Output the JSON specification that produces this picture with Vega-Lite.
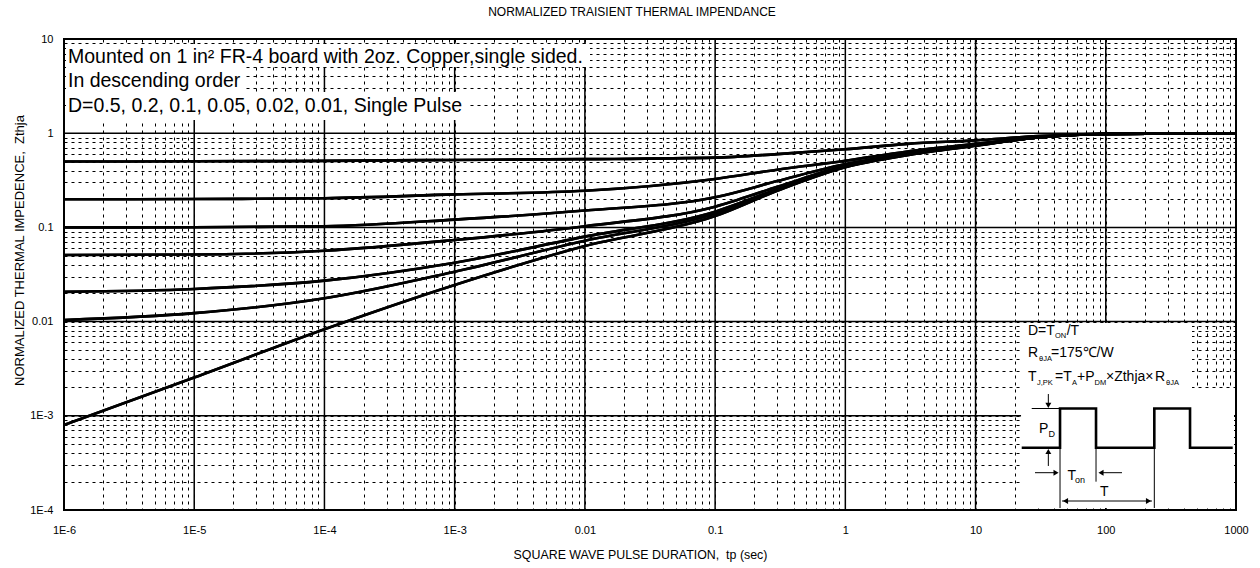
{
  "$schema": "https://vega.github.io/schema/vega-lite/v6.json",
  "width": 1172,
  "height": 471,
  "autosize": {"type": "none"},
  "padding": {"left": 64, "top": 39, "right": 24, "bottom": 58},
  "background": "white",
  "config": {
    "font": "Liberation Sans",
    "view": {"stroke": "black", "strokeWidth": 2}
  },
  "title": {"text": "NORMALIZED TRAISIENT THERMAL IMPENDANCE", "fontSize": 12, "fontWeight": "normal", "color": "black", "offset": 14, "anchor": "middle", "dx": -18},
  "datasets": {
    "xdec": [{"t": 1e-6}, {"t": 1e-5}, {"t": 1e-4}, {"t": 0.001}, {"t": 0.01}, {"t": 0.1}, {"t": 1}, {"t": 10}, {"t": 100}, {"t": 1000}],
    "ydec": [{"z": 0.0001}, {"z": 0.001}, {"z": 0.01}, {"z": 0.1}, {"z": 1}, {"z": 10}],
    "curves": [
      {"s": "0.5", "t": 1e-6, "z": 0.5}, {"s": "0.5", "t": 1e-5, "z": 0.503}, {"s": "0.5", "t": 1e-4, "z": 0.508}, {"s": "0.5", "t": 1e-3, "z": 0.52}, {"s": "0.5", "t": 0.01, "z": 0.53}, {"s": "0.5", "t": 0.1, "z": 0.55}, {"s": "0.5", "t": 0.3, "z": 0.6}, {"s": "0.5", "t": 1, "z": 0.675}, {"s": "0.5", "t": 3, "z": 0.77}, {"s": "0.5", "t": 10, "z": 0.84}, {"s": "0.5", "t": 30, "z": 0.93}, {"s": "0.5", "t": 100, "z": 0.985}, {"s": "0.5", "t": 1000, "z": 1.0},
      {"s": "0.2", "t": 1e-6, "z": 0.199}, {"s": "0.2", "t": 1e-5, "z": 0.2}, {"s": "0.2", "t": 1e-4, "z": 0.204}, {"s": "0.2", "t": 1e-3, "z": 0.224}, {"s": "0.2", "t": 0.01, "z": 0.245}, {"s": "0.2", "t": 0.1, "z": 0.327}, {"s": "0.2", "t": 0.3, "z": 0.41}, {"s": "0.2", "t": 1, "z": 0.51}, {"s": "0.2", "t": 3, "z": 0.64}, {"s": "0.2", "t": 10, "z": 0.77}, {"s": "0.2", "t": 30, "z": 0.9}, {"s": "0.2", "t": 100, "z": 0.98}, {"s": "0.2", "t": 1000, "z": 1.0},
      {"s": "0.1", "t": 1e-6, "z": 0.1}, {"s": "0.1", "t": 1e-5, "z": 0.1005}, {"s": "0.1", "t": 1e-4, "z": 0.103}, {"s": "0.1", "t": 1e-3, "z": 0.121}, {"s": "0.1", "t": 0.01, "z": 0.151}, {"s": "0.1", "t": 0.1, "z": 0.209}, {"s": "0.1", "t": 0.3, "z": 0.31}, {"s": "0.1", "t": 1, "z": 0.47}, {"s": "0.1", "t": 3, "z": 0.61}, {"s": "0.1", "t": 10, "z": 0.76}, {"s": "0.1", "t": 30, "z": 0.9}, {"s": "0.1", "t": 100, "z": 0.98}, {"s": "0.1", "t": 1000, "z": 1.0},
      {"s": "0.05", "t": 1e-6, "z": 0.051}, {"s": "0.05", "t": 1e-5, "z": 0.0515}, {"s": "0.05", "t": 1e-4, "z": 0.0566}, {"s": "0.05", "t": 1e-3, "z": 0.0735}, {"s": "0.05", "t": 0.01, "z": 0.103}, {"s": "0.05", "t": 0.1, "z": 0.166}, {"s": "0.05", "t": 0.3, "z": 0.27}, {"s": "0.05", "t": 1, "z": 0.45}, {"s": "0.05", "t": 3, "z": 0.6}, {"s": "0.05", "t": 10, "z": 0.75}, {"s": "0.05", "t": 30, "z": 0.9}, {"s": "0.05", "t": 100, "z": 0.98}, {"s": "0.05", "t": 1000, "z": 1.0},
      {"s": "0.02", "t": 1e-6, "z": 0.0207}, {"s": "0.02", "t": 1e-5, "z": 0.0222}, {"s": "0.02", "t": 1e-4, "z": 0.0272}, {"s": "0.02", "t": 1e-3, "z": 0.0422}, {"s": "0.02", "t": 0.01, "z": 0.0798}, {"s": "0.02", "t": 0.1, "z": 0.147}, {"s": "0.02", "t": 0.3, "z": 0.255}, {"s": "0.02", "t": 1, "z": 0.44}, {"s": "0.02", "t": 3, "z": 0.595}, {"s": "0.02", "t": 10, "z": 0.745}, {"s": "0.02", "t": 30, "z": 0.9}, {"s": "0.02", "t": 100, "z": 0.98}, {"s": "0.02", "t": 1000, "z": 1.0},
      {"s": "0.01", "t": 1e-6, "z": 0.0104}, {"s": "0.01", "t": 1e-5, "z": 0.0123}, {"s": "0.01", "t": 1e-4, "z": 0.0177}, {"s": "0.01", "t": 1e-3, "z": 0.0339}, {"s": "0.01", "t": 0.01, "z": 0.0723}, {"s": "0.01", "t": 0.1, "z": 0.14}, {"s": "0.01", "t": 0.3, "z": 0.25}, {"s": "0.01", "t": 1, "z": 0.44}, {"s": "0.01", "t": 3, "z": 0.59}, {"s": "0.01", "t": 10, "z": 0.74}, {"s": "0.01", "t": 30, "z": 0.9}, {"s": "0.01", "t": 100, "z": 0.98}, {"s": "0.01", "t": 1000, "z": 1.0},
      {"s": "single", "t": 1e-6, "z": 0.0008}, {"s": "single", "t": 1e-5, "z": 0.00255}, {"s": "single", "t": 1e-4, "z": 0.0083}, {"s": "single", "t": 1e-3, "z": 0.0245}, {"s": "single", "t": 0.01, "z": 0.0635}, {"s": "single", "t": 0.1, "z": 0.132}, {"s": "single", "t": 0.3, "z": 0.245}, {"s": "single", "t": 1, "z": 0.435}, {"s": "single", "t": 3, "z": 0.585}, {"s": "single", "t": 10, "z": 0.735}, {"s": "single", "t": 30, "z": 0.9}, {"s": "single", "t": 100, "z": 0.98}, {"s": "single", "t": 1000, "z": 1.0}
    ],
    "boxes": [
      {"t": 1.036e-6, "t2": 0.01095, "z": 8.849, "z2": 5.044},
      {"t": 1.036e-6, "t2": 2.455e-5, "z": 5.044, "z2": 2.738},
      {"t": 1.036e-6, "t2": 1.244e-3, "z": 2.738, "z2": 1.381},
      {"t": 22.35, "t2": 459.5, "z": 0.009663, "z2": 0.001973},
      {"t": 22.35, "t2": 965.4, "z": 0.001973, "z2": 0.000105}
    ],
    "notes": [
      {"txt": "Mounted on 1 in² FR-4 board with 2oz. Copper,single sided.", "t": 1.073e-6, "z": 5.562, "k": "big"},
      {"txt": "In descending order", "t": 1.073e-6, "z": 3.056, "k": "big"},
      {"txt": "D=0.5, 0.2, 0.1, 0.05, 0.02, 0.01, Single Pulse", "t": 1.073e-6, "z": 1.679, "k": "big"},
      {"txt": "D=T", "t": 25.28, "z": 0.007206, "k": "box"},
      {"txt": "/T", "t": 50.12, "z": 0.007206, "k": "box"},
      {"txt": "R", "t": 25.28, "z": 0.004208, "k": "box"},
      {"txt": "=175℃/W", "t": 37.97, "z": 0.004208, "k": "box"},
      {"txt": "T", "t": 25.28, "z": 0.002341, "k": "box"},
      {"txt": "=T", "t": 40.76, "z": 0.002341, "k": "box"},
      {"txt": "+P", "t": 60.13, "z": 0.002341, "k": "box"},
      {"txt": "×Zthja×", "t": 100.4, "z": 0.002341, "k": "box"},
      {"txt": "R", "t": 238.8, "z": 0.002341, "k": "box"},
      {"txt": "ON", "t": 40.76, "z": 0.006616, "k": "sub"},
      {"txt": "θJA", "t": 30.72, "z": 0.003817, "k": "sub"},
      {"txt": "J,PK", "t": 29.65, "z": 0.002123, "k": "sub"},
      {"txt": "A", "t": 55.05, "z": 0.002123, "k": "sub"},
      {"txt": "DM", "t": 81.94, "z": 0.002123, "k": "sub"},
      {"txt": "θJA", "t": 290.1, "z": 0.002123, "k": "sub"},
      {"txt": "P", "t": 30.72, "z": 0.0006568, "k": "diag"},
      {"txt": "T", "t": 50.83, "z": 0.0002082, "k": "diag"},
      {"txt": "T", "t": 90.3, "z": 0.0001408, "k": "diag"},
      {"txt": "D", "t": 36.34, "z": 0.0005955, "k": "dsub"},
      {"txt": "on", "t": 58.04, "z": 0.0001934, "k": "dsub"}
    ],
    "wave": [
      {"i": 0, "t": 22.62, "z": 0.0004585}, {"i": 1, "t": 44.53, "z": 0.0004585}, {"i": 2, "t": 44.53, "z": 0.001195}, {"i": 3, "t": 84.16, "z": 0.001195}, {"i": 4, "t": 84.16, "z": 0.0004585},
      {"i": 5, "t": 235.9, "z": 0.0004585}, {"i": 6, "t": 235.9, "z": 0.001195}, {"i": 7, "t": 443.6, "z": 0.001195}, {"i": 8, "t": 443.6, "z": 0.0004585}, {"i": 9, "t": 943.6, "z": 0.0004585}
    ],
    "guides": [
      {"g": "g1", "i": 0, "t": 27.0, "z": 0.001195}, {"g": "g1", "i": 1, "t": 44.53, "z": 0.001195},
      {"g": "g2", "i": 0, "t": 44.53, "z": 0.0004585}, {"g": "g2", "i": 1, "t": 44.53, "z": 0.000105},
      {"g": "g3", "i": 0, "t": 84.16, "z": 0.0004585}, {"g": "g3", "i": 1, "t": 84.16, "z": 0.0001998},
      {"g": "g4", "i": 0, "t": 235.9, "z": 0.0004585}, {"g": "g4", "i": 1, "t": 235.9, "z": 0.000105},
      {"g": "a1", "i": 0, "t": 36.22, "z": 0.001703}, {"g": "a1", "i": 1, "t": 36.22, "z": 0.001334},
      {"g": "a2", "i": 0, "t": 36.22, "z": 0.0002933}, {"g": "a2", "i": 1, "t": 36.22, "z": 0.0004028},
      {"g": "a3", "i": 0, "t": 28.61, "z": 0.0002489}, {"g": "a3", "i": 1, "t": 40.76, "z": 0.0002489},
      {"g": "a4", "i": 0, "t": 133.2, "z": 0.0002489}, {"g": "a4", "i": 1, "t": 93.56, "z": 0.0002489},
      {"g": "a5", "i": 0, "t": 46.13, "z": 0.0001246}, {"g": "a5", "i": 1, "t": 226.5, "z": 0.0001246}
    ],
    "heads": [
      {"t": 36.22, "z": 0.00129, "dir": "down"},
      {"t": 36.22, "z": 0.0004178, "dir": "up"},
      {"t": 41.5, "z": 0.0002489, "dir": "right"},
      {"t": 91.9, "z": 0.0002489, "dir": "left"},
      {"t": 49.08, "z": 0.0001246, "dir": "left"},
      {"t": 212.9, "z": 0.0001246, "dir": "right"}
    ]
  },
  "layer": [
    {
      "data": {"name": "curves"},
      "mark": {"type": "line", "color": "black", "strokeWidth": 2.6, "interpolate": "monotone"},
      "encoding": {
        "x": {
          "field": "t", "type": "quantitative",
          "scale": {"type": "log", "domain": [1e-6, 1000], "nice": false},
          "axis": {
            "title": "SQUARE WAVE PULSE DURATION, \u00a0tp (sec)",
            "values": [1e-6, 2e-6, 3e-6, 4e-6, 5e-6, 6e-6, 7e-6, 8e-6, 9e-6, 1e-5, 2e-5, 3e-5, 4e-5, 5e-5, 6e-5, 7e-5, 8e-5, 9e-5, 1e-4, 2e-4, 3e-4, 4e-4, 5e-4, 6e-4, 7e-4, 8e-4, 9e-4, 0.001, 0.002, 0.003, 0.004, 0.005, 0.006, 0.007, 0.008, 0.009, 0.01, 0.02, 0.03, 0.04, 0.05, 0.06, 0.07, 0.08, 0.09, 0.1, 0.2, 0.3, 0.4, 0.5, 0.6, 0.7, 0.8, 0.9, 1, 2, 3, 4, 5, 6, 7, 8, 9, 10, 20, 30, 40, 50, 60, 70, 80, 90, 100, 200, 300, 400, 500, 600, 700, 800, 900, 1000],
            "grid": true, "gridColor": "black", "gridWidth": 1, "gridDash": [3, 4], "gridOpacity": 1,
            "ticks": false, "domain": false,
            "labelExpr": "abs(log(datum.value)/LN10 - round(log(datum.value)/LN10)) > 0.001 ? '' : (round(log(datum.value)/LN10) < -2 ? '1E' + round(log(datum.value)/LN10) : '' + pow(10, round(log(datum.value)/LN10)))",
            "labelFontSize": 11, "labelColor": "black", "labelPadding": 14, "labelOverlap": false, "labelBound": false, "labelFlush": false,
            "titleFontSize": 12.4, "titleFontWeight": "normal", "titleColor": "black", "titleX": 576, "titleY": 38, "titleBaseline": "top", "titleAlign": "center", "titleAngle": 0
          }
        },
        "y": {
          "field": "z", "type": "quantitative",
          "scale": {"type": "log", "domain": [0.0001, 10], "nice": false},
          "axis": {
            "title": "NORMALIZED THERMAL IMPEDENCE, \u00a0Zthja",
            "values": [0.0001, 0.0002, 0.0003, 0.0004, 0.0005, 0.0006, 0.0007, 0.0008, 0.0009, 0.001, 0.002, 0.003, 0.004, 0.005, 0.006, 0.007, 0.008, 0.009, 0.01, 0.02, 0.03, 0.04, 0.05, 0.06, 0.07, 0.08, 0.09, 0.1, 0.2, 0.3, 0.4, 0.5, 0.6, 0.7, 0.8, 0.9, 1, 2, 3, 4, 5, 6, 7, 8, 9, 10],
            "grid": true, "gridColor": "black", "gridWidth": 1, "gridDash": [3, 4], "gridOpacity": 1,
            "ticks": false, "domain": false,
            "labelExpr": "abs(log(datum.value)/LN10 - round(log(datum.value)/LN10)) > 0.001 ? '' : (round(log(datum.value)/LN10) < -2 ? '1E' + round(log(datum.value)/LN10) : '' + pow(10, round(log(datum.value)/LN10)))",
            "labelFontSize": 11, "labelColor": "black", "labelPadding": 11, "labelOverlap": false, "labelBound": false, "labelFlush": false,
            "titleFontSize": 13, "titleFontWeight": "normal", "titleColor": "black", "titleX": -38, "titleY": 211, "titleAngle": -90, "titleBaseline": "bottom", "titleAlign": "center"
          }
        },
        "detail": {"field": "s", "type": "nominal"}
      }
    },
    {
      "data": {"name": "xdec"},
      "mark": {"type": "rule", "color": "black", "strokeWidth": 1.5},
      "encoding": {
        "x": {"field": "t", "type": "quantitative", "scale": {"type": "log", "domain": [1e-6, 1000], "nice": false}}
      }
    },
    {
      "data": {"name": "ydec"},
      "mark": {"type": "rule", "color": "black", "strokeWidth": 1.5},
      "encoding": {
        "y": {"field": "z", "type": "quantitative", "scale": {"type": "log", "domain": [0.0001, 10], "nice": false}}
      }
    },
    {
      "data": {"name": "boxes"},
      "mark": {"type": "rect", "fill": "white", "strokeWidth": 0},
      "encoding": {
        "x": {"field": "t", "type": "quantitative", "scale": {"type": "log", "domain": [1e-6, 1000], "nice": false}},
        "x2": {"field": "t2"},
        "y": {"field": "z", "type": "quantitative", "scale": {"type": "log", "domain": [0.0001, 10], "nice": false}},
        "y2": {"field": "z2"}
      }
    },
    {
      "data": {"name": "curves"},
      "mark": {"type": "line", "color": "black", "strokeWidth": 2.6, "interpolate": "monotone"},
      "encoding": {
        "x": {"field": "t", "type": "quantitative", "scale": {"type": "log", "domain": [1e-6, 1000], "nice": false}},
        "y": {"field": "z", "type": "quantitative", "scale": {"type": "log", "domain": [0.0001, 10], "nice": false}},
        "detail": {"field": "s", "type": "nominal"}
      }
    },
    {
      "data": {"name": "notes"},
      "transform": [{"filter": "datum.k == 'big'"}],
      "mark": {"type": "text", "align": "left", "baseline": "alphabetic", "fontSize": 19.5, "color": "black"},
      "encoding": {
        "x": {"field": "t", "type": "quantitative", "scale": {"type": "log", "domain": [1e-6, 1000], "nice": false}},
        "y": {"field": "z", "type": "quantitative", "scale": {"type": "log", "domain": [0.0001, 10], "nice": false}},
        "text": {"field": "txt"}
      }
    },
    {
      "data": {"name": "notes"},
      "transform": [{"filter": "datum.k == 'box'"}],
      "mark": {"type": "text", "align": "left", "baseline": "alphabetic", "fontSize": 14, "color": "black"},
      "encoding": {
        "x": {"field": "t", "type": "quantitative", "scale": {"type": "log", "domain": [1e-6, 1000], "nice": false}},
        "y": {"field": "z", "type": "quantitative", "scale": {"type": "log", "domain": [0.0001, 10], "nice": false}},
        "text": {"field": "txt"}
      }
    },
    {
      "data": {"name": "notes"},
      "transform": [{"filter": "datum.k == 'sub'"}],
      "mark": {"type": "text", "align": "left", "baseline": "alphabetic", "fontSize": 7.5, "color": "black"},
      "encoding": {
        "x": {"field": "t", "type": "quantitative", "scale": {"type": "log", "domain": [1e-6, 1000], "nice": false}},
        "y": {"field": "z", "type": "quantitative", "scale": {"type": "log", "domain": [0.0001, 10], "nice": false}},
        "text": {"field": "txt"}
      }
    },
    {
      "data": {"name": "notes"},
      "transform": [{"filter": "datum.k == 'diag'"}],
      "mark": {"type": "text", "align": "left", "baseline": "alphabetic", "fontSize": 14, "color": "black"},
      "encoding": {
        "x": {"field": "t", "type": "quantitative", "scale": {"type": "log", "domain": [1e-6, 1000], "nice": false}},
        "y": {"field": "z", "type": "quantitative", "scale": {"type": "log", "domain": [0.0001, 10], "nice": false}},
        "text": {"field": "txt"}
      }
    },
    {
      "data": {"name": "notes"},
      "transform": [{"filter": "datum.k == 'dsub'"}],
      "mark": {"type": "text", "align": "left", "baseline": "alphabetic", "fontSize": 9, "color": "black"},
      "encoding": {
        "x": {"field": "t", "type": "quantitative", "scale": {"type": "log", "domain": [1e-6, 1000], "nice": false}},
        "y": {"field": "z", "type": "quantitative", "scale": {"type": "log", "domain": [0.0001, 10], "nice": false}},
        "text": {"field": "txt"}
      }
    },
    {
      "data": {"name": "wave"},
      "mark": {"type": "line", "color": "black", "strokeWidth": 2.6, "interpolate": "linear"},
      "encoding": {
        "x": {"field": "t", "type": "quantitative", "scale": {"type": "log", "domain": [1e-6, 1000], "nice": false}},
        "y": {"field": "z", "type": "quantitative", "scale": {"type": "log", "domain": [0.0001, 10], "nice": false}},
        "order": {"field": "i", "type": "quantitative"}
      }
    },
    {
      "data": {"name": "guides"},
      "mark": {"type": "line", "color": "black", "strokeWidth": 1, "interpolate": "linear"},
      "encoding": {
        "x": {"field": "t", "type": "quantitative", "scale": {"type": "log", "domain": [1e-6, 1000], "nice": false}},
        "y": {"field": "z", "type": "quantitative", "scale": {"type": "log", "domain": [0.0001, 10], "nice": false}},
        "detail": {"field": "g", "type": "nominal"},
        "order": {"field": "i", "type": "quantitative"}
      }
    },
    {
      "data": {"name": "heads"},
      "mark": {"type": "point", "filled": true, "color": "black", "size": 35, "opacity": 1},
      "encoding": {
        "x": {"field": "t", "type": "quantitative", "scale": {"type": "log", "domain": [1e-6, 1000], "nice": false}},
        "y": {"field": "z", "type": "quantitative", "scale": {"type": "log", "domain": [0.0001, 10], "nice": false}},
        "shape": {"field": "dir", "type": "nominal", "scale": {"domain": ["up", "down", "left", "right"], "range": ["triangle-up", "triangle-down", "triangle-left", "triangle-right"]}, "legend": null}
      }
    }
  ]
}
